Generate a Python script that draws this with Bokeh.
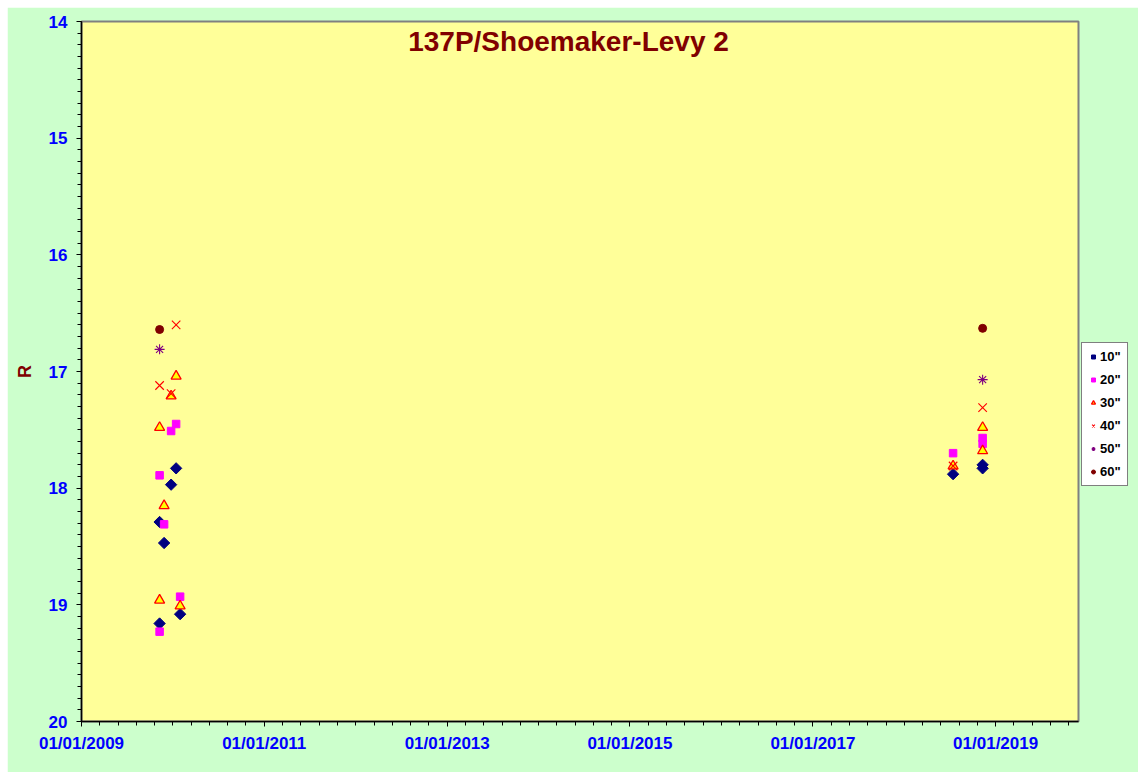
import numpy as np
import pandas as pd
from bokeh.plotting import figure
from bokeh.models import Range1d, FixedTicker, DatetimeTickFormatter, Legend, LegendItem, Label
from bokeh.embed import file_html
from bokeh.resources import INLINE

# ---- data ----
title_text = "137P/Shoemaker-Levy 2"
y_label = "R"
series_names = ['10"', '20"', '30"', '40"', '50"', '60"']

dates_10 = ["2009-11-09", "2009-11-09", "2009-11-27", "2009-12-25", "2010-01-14", "2010-01-30",
            "2018-07-15", "2018-11-10", "2018-11-10"]
r_10 = [18.29, 19.16, 18.47, 17.97, 17.83, 19.08, 17.88, 17.80, 17.83]

dates_20 = ["2009-11-09", "2009-11-09", "2009-11-27", "2009-12-25", "2010-01-14", "2010-01-30",
            "2018-07-15", "2018-11-10", "2018-11-10"]
r_20 = [17.89, 19.23, 18.31, 17.51, 17.45, 18.93, 17.70, 17.57, 17.62]

dates_30 = ["2009-11-09", "2009-11-09", "2009-11-27", "2009-12-25", "2010-01-14", "2010-01-30",
            "2018-07-15", "2018-11-10", "2018-11-10"]
r_30 = [17.48, 18.96, 18.15, 17.21, 17.04, 19.01, 17.81, 17.48, 17.68]

dates_40 = ["2009-11-09", "2009-12-25", "2010-01-14", "2018-07-15", "2018-11-10"]
r_40 = [17.12, 17.19, 16.60, 17.81, 17.31]

dates_50 = ["2009-11-09", "2018-11-10"]
r_50 = [16.81, 17.07]

dates_60 = ["2009-11-09", "2018-11-10"]
r_60 = [16.64, 16.63]

x_start = "2009-01-01"
x_end = "2019-11-28"
major_years = [2009, 2011, 2013, 2015, 2017, 2019]
y_ticks = [14, 15, 16, 17, 18, 19, 20]

# ---- helpers ----
def to_ms(d):
    return pd.Timestamp(d).value / 1e6

x0, x1 = to_ms(x_start), to_ms(x_end)
majors = [to_ms(f"{y}-01-01") for y in major_years]
minors = []
for a, b in zip(majors[:-1], majors[1:]):
    minors.extend(list(np.linspace(a, b, 11)[:-1]))
step = (majors[-1] - majors[-2]) / 10
m = majors[-1]
while m <= x1:
    minors.append(m)
    m += step

FONT = "Liberation Sans"

p = figure(frame_width=997, frame_height=700, output_backend="svg", toolbar_location=None,
           x_range=Range1d(x0, x1), y_range=Range1d(20, 14), x_axis_type="datetime",
           min_border_left=74, min_border_right=54, min_border_top=14, min_border_bottom=51)
p.margin = (7, 0, 0, 7)

p.background_fill_color = "#FFFF99"
p.border_fill_color = "#CCFFCC"
p.outline_line_color = "#808080"
p.outline_line_width = 2
p.grid.visible = False

p.xaxis.ticker = FixedTicker(ticks=majors, minor_ticks=minors)
fmt = "%d/%m/%Y"
p.xaxis.formatter = DatetimeTickFormatter(milliseconds=fmt, seconds=fmt, minsec=fmt, minutes=fmt,
                                          hourmin=fmt, hours=fmt, days=fmt, months=fmt, years=fmt)
p.yaxis.ticker = FixedTicker(ticks=y_ticks, minor_ticks=list(np.round(np.arange(14, 20.001, 0.1), 2)))

for ax in (p.xaxis, p.yaxis):
    ax.axis_line_color = "black"
    ax.axis_line_width = 1.5
    ax.major_tick_line_color = "black"
    ax.minor_tick_line_color = "black"
    ax.major_tick_in = 0
    ax.major_tick_out = 5
    ax.minor_tick_in = 0
    ax.minor_tick_out = 4
    ax.major_label_text_color = "#0000FF"
    ax.major_label_text_font = FONT
    ax.major_label_text_font_style = "bold"
    ax.major_label_text_font_size = "17px"

p.xaxis.major_label_standoff = 7
p.yaxis.major_label_standoff = 9
p.yaxis.axis_label = y_label
p.yaxis.axis_label_text_color = "#800000"
p.yaxis.axis_label_text_font = FONT
p.yaxis.axis_label_text_font_style = "bold"
p.yaxis.axis_label_text_font_size = "18px"
p.yaxis.axis_label_standoff = 11

def xs(ds):
    return [pd.Timestamp(d) for d in ds]

r1 = p.scatter(xs(dates_10), r_10, marker="square", angle=np.pi / 4, size=8,
               fill_color="#000080", line_color="#000080")
r2 = p.scatter(xs(dates_20), r_20, marker="square", size=7.5,
               fill_color="#FF00FF", line_color="#FF00FF")
r3 = p.scatter(xs(dates_30), r_30, marker="triangle", size=10,
               fill_color="#FFFF00", line_color="#FF0000", line_width=1.3)
r4 = p.scatter(xs(dates_40), r_40, marker="x", size=12,
               line_color="#FF0000", line_width=1.1)
r5 = p.scatter(xs(dates_50), r_50, marker="asterisk", size=10,
               line_color="#800080", line_width=1.1)
r6 = p.scatter(xs(dates_60), r_60, marker="circle", size=8,
               fill_color="#800000", line_color="#800000")

renderers = [r1, r2, r3, r4, r5, r6]
legend = Legend(items=[LegendItem(label=n, renderers=[r]) for n, r in zip(series_names, renderers)],
                location=(3, 235))
legend.border_line_color = "black"
legend.border_line_width = 1
legend.background_fill_color = "white"
legend.background_fill_alpha = 1
legend.label_text_font = FONT
legend.label_text_font_style = "bold"
legend.label_text_font_size = "13px"
legend.label_text_color = "black"
legend.glyph_width = 10
legend.glyph_height = 15
legend.label_height = 15
legend.label_standoff = 2
legend.spacing = 8
legend.padding = 6
legend.margin = 0
p.add_layout(legend, "right")

title_x = x0 + (x1 - x0) * (568 - 80.7) / 997.6
p.add_layout(Label(x=title_x, y=14.172, text=title_text, text_align="center", text_baseline="middle",
                   text_color="#800000", text_font=FONT, text_font_style="bold",
                   text_font_size="28px"))

open("out.html", "w").write(file_html(p, INLINE))
